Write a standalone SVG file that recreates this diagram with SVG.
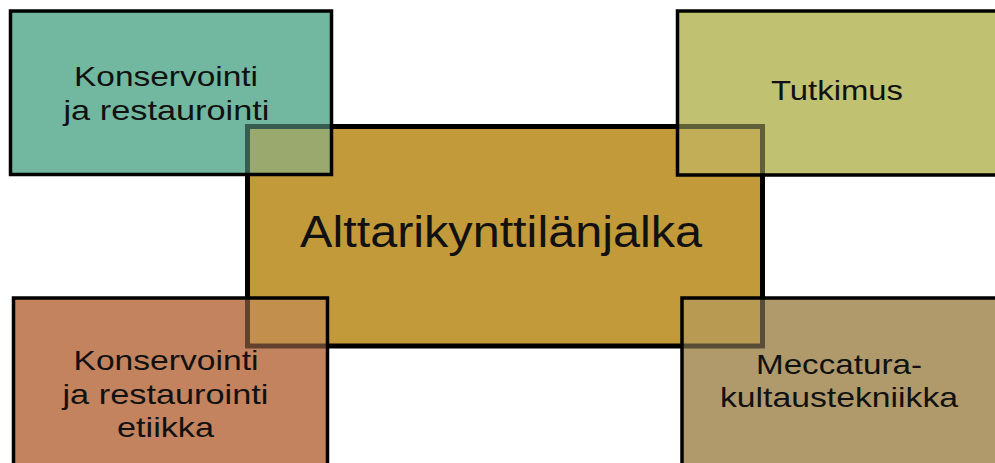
<svg xmlns="http://www.w3.org/2000/svg" xmlns:xlink="http://www.w3.org/1999/xlink" width="995" height="463" viewBox="0 0 995 463">
  <style>
    .label { font-family: "Liberation Sans", Arial, sans-serif; font-size: 28px; fill: #111; text-anchor: middle; }
    .title { font-size: 44px; }
    .frame { stroke: #000; stroke-width: 3.5; }
    .veil { fill-opacity: 0.5; }
    .teal { fill: #72b8a0; }
    .olive { fill: #c0c272; }
    .clay { fill: #c3835e; }
    .tan { fill: #b09a6c; }
    .gold { fill: #c39a3a; }
  </style>
  <defs>
    <rect id="r-tl" x="10.5" y="11" width="321" height="163.5"/>
    <rect id="r-tr" x="677.5" y="11" width="330" height="164"/>
    <rect id="r-bl" x="13.5" y="298" width="314" height="180"/>
    <rect id="r-br" x="682" y="298" width="330" height="180"/>
  </defs>

  <!-- solid backing for the four outer boxes -->
  <g id="underlay">
    <use xlink:href="#r-tl" class="teal"/>
    <use xlink:href="#r-tr" class="olive"/>
    <use xlink:href="#r-bl" class="clay"/>
    <use xlink:href="#r-br" class="tan"/>
  </g>

  <!-- central box -->
  <g id="node-center">
    <rect x="247.5" y="126.5" width="515" height="219.5" class="gold" stroke="#000" stroke-width="5"/>
    <text class="label title" x="501" y="247" textLength="402" lengthAdjust="spacingAndGlyphs">Alttarikynttilänjalka</text>
  </g>

  <!-- outer boxes, translucent where they cross the central box -->
  <g id="node-konservointi">
    <use xlink:href="#r-tl" class="teal veil frame"/>
    <text class="label" x="166" y="85.5" textLength="184" lengthAdjust="spacingAndGlyphs">Konservointi</text>
    <text class="label" x="166.5" y="119.5" textLength="206" lengthAdjust="spacingAndGlyphs">ja restaurointi</text>
  </g>

  <g id="node-tutkimus">
    <use xlink:href="#r-tr" class="olive veil frame"/>
    <text class="label" x="837" y="100" textLength="132" lengthAdjust="spacingAndGlyphs">Tutkimus</text>
  </g>

  <g id="node-etiikka">
    <use xlink:href="#r-bl" class="clay veil frame"/>
    <text class="label" x="166" y="370" textLength="185" lengthAdjust="spacingAndGlyphs">Konservointi</text>
    <text class="label" x="165.5" y="403.5" textLength="206" lengthAdjust="spacingAndGlyphs">ja restaurointi</text>
    <text class="label" x="165.5" y="437" textLength="97" lengthAdjust="spacingAndGlyphs">etiikka</text>
  </g>

  <g id="node-meccatura">
    <use xlink:href="#r-br" class="tan veil frame"/>
    <text class="label" x="839" y="373.5" textLength="166" lengthAdjust="spacingAndGlyphs">Meccatura-</text>
    <text class="label" x="839" y="407" textLength="238" lengthAdjust="spacingAndGlyphs">kultaustekniikka</text>
  </g>
</svg>
